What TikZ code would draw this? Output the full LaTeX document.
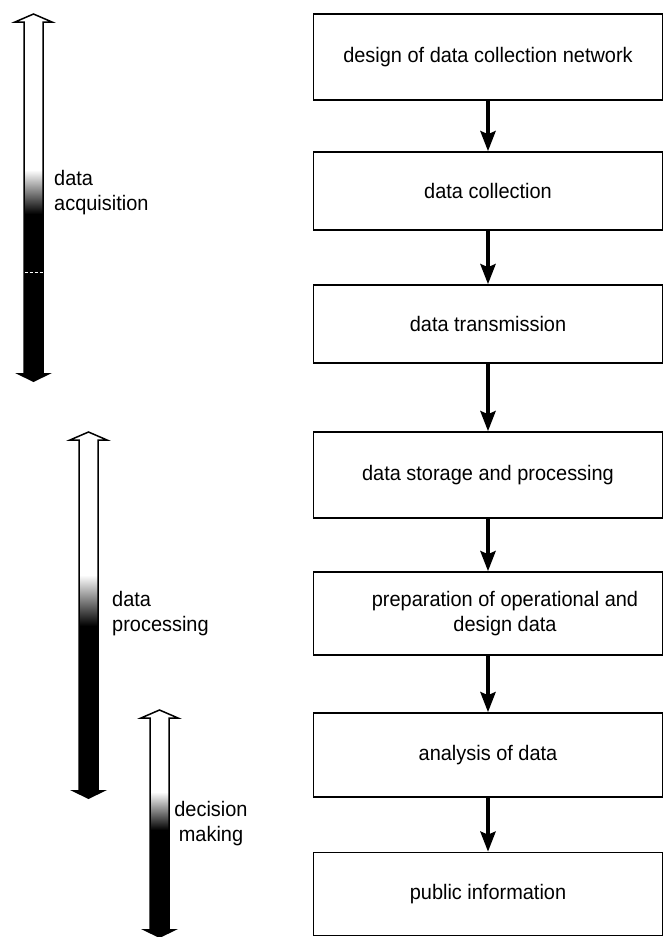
\documentclass[tikz,border=0pt]{standalone}
\usepackage{fontspec}
\setmainfont{Liberation Sans}
\usetikzlibrary{arrows.meta}
\newcommand{\nt}[1]{\scalebox{0.95}[1]{#1}}
\tikzset{
  box/.style={draw=black, line width=1.6pt, minimum width=349pt, inner sep=0pt,
    font=\fontsize{21}{25}\selectfont, align=center},
  flow/.style={line width=4pt, -{Stealth[length=20pt,width=15pt,inset=3pt]}},
  lbl/.style={font=\fontsize{21}{25}\selectfont, inner sep=0pt},
  outl/.style={line width=1.5pt, line join=miter},
}
% #1 centre x, #2 top tip y, #3 bottom tip y, #4 gradient start, #5 gradient end
\newcommand{\tallarrow}[5]{%
  \fill[white] ({#1-9.5},{#2+8}) rectangle ({#1+9.5},#4);
  \shade[top color=white,bottom color=black] ({#1-9.5},#4) rectangle ({#1+9.5},#5);
  \fill[black] ({#1-9.5},#5) rectangle ({#1+9.5},{#3-9});
  \draw[outl] ({#1-9.5},{#3-9}) -- ({#1-9.5},{#2+8}) -- ({#1-18.5},{#2+8}) -- (#1,#2)
     -- ({#1+18.5},{#2+8}) -- ({#1+9.5},{#2+8}) -- ({#1+9.5},{#3-9});
  \fill[black] ({#1-18.5},{#3-9}) -- ({#1+18.5},{#3-9}) -- (#1,#3) -- cycle;
}
\begin{document}
\begin{tikzpicture}[x=1pt,y=-1pt]
\useasboundingbox (0,0) rectangle (668,937);
\fill[white] (0,0) rectangle (668,937);

% flow boxes
\node[box, minimum height=86pt] (b1) at (488,57) {\nt{design of data collection network}};
\node[box, minimum height=78pt] (b2) at (488,191) {\nt{data collection}};
\node[box, minimum height=78pt] (b3) at (488,324) {\nt{data transmission}};
\node[box, minimum height=86pt] (b4) at (488,475) {\nt{data storage and processing}};
\node[box, minimum height=83pt] (b5) at (488,613.5) {};
\node[box, anchor=center, draw=none, xshift=17pt] (t5) at (b5.center) {\nt{preparation of operational and}\\\nt{design data}};
\node[box, minimum height=84pt] (b6) at (488,755) {\nt{analysis of data}};
\node[box, minimum height=83pt] (b7) at (488,894) {\nt{public information}};

\draw[flow] (b1.south) -- (b2.north);
\draw[flow] (b2.south) -- (b3.north);
\draw[flow] (b3.south) -- (b4.north);
\draw[flow] (b4.south) -- (b5.north);
\draw[flow] (b5.south) -- (b6.north);
\draw[flow] (b6.south) -- (b7.north);

% phase arrows
\tallarrow{33.5}{14}{382}{170}{214}
\draw[white, line width=1pt, dash pattern=on 3pt off 2pt] (24.5,272) -- (42.5,272);
\tallarrow{88.5}{432}{799}{575}{626}
\tallarrow{159.5}{710}{938}{792}{830}

% phase labels
\node[lbl, anchor=west, align=left] (l1) at (54,193) {\nt{data}\\\nt{acquisition}};
\node[lbl, anchor=west, align=left] (l2) at (112,614) {\nt{data}\\\nt{processing}};
\node[lbl, align=center] (l3) at (211,824) {\nt{decision}\\\nt{making}};
\end{tikzpicture}
\end{document}
